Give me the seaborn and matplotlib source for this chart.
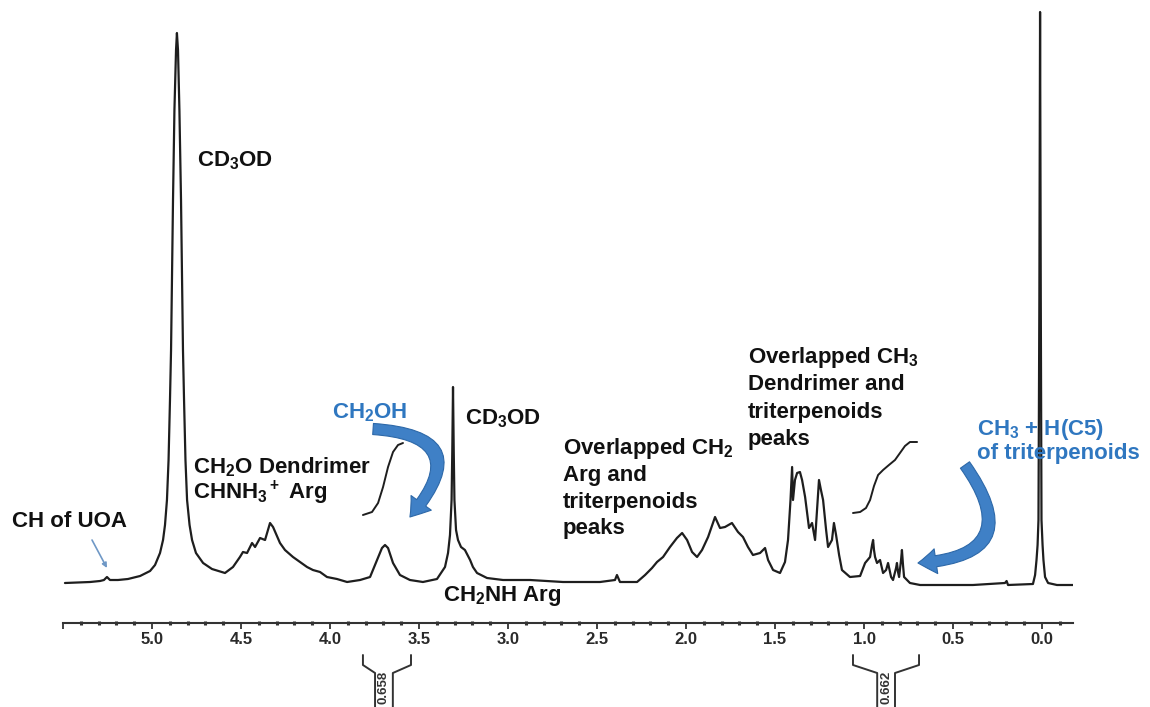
import numpy as np
import matplotlib
matplotlib.use("Agg")
import matplotlib.pyplot as plt
import seaborn as sns
from matplotlib.patches import FancyArrowPatch
from matplotlib.ticker import MultipleLocator

# 1H NMR trace: chemical shift (ppm) and relative intensity
shift_ppm = [
    5.489, 5.348, 5.292, 5.270, 5.253, 5.236, 5.191, 5.135, 5.067, 5.011,
    4.983, 4.955, 4.938, 4.927, 4.916, 4.907, 4.899, 4.893, 4.888, 4.882,
    4.874, 4.865, 4.860, 4.854, 4.846, 4.837, 4.831, 4.826, 4.820, 4.812,
    4.803, 4.789, 4.775, 4.753, 4.713, 4.663, 4.590, 4.545, 4.506, 4.489,
    4.466, 4.438, 4.421, 4.393, 4.365,
    4.337, 4.320, 4.281, 4.253, 4.208, 4.169, 4.129, 4.096, 4.056, 4.017,
    3.961, 3.904, 3.831, 3.775, 3.736, 3.708, 3.691, 3.674, 3.646, 3.607,
    3.551, 3.478, 3.399, 3.354, 3.337, 3.326, 3.317, 3.313, 3.309, 3.305,
    3.301, 3.292, 3.281, 3.264, 3.242, 3.213, 3.197, 3.174, 3.118, 3.028,
    2.876, 2.691, 2.596, 2.483, 2.399, 2.388, 2.371, 2.275, 2.230, 2.191,
    2.163, 2.129, 2.090, 2.051, 2.022, 1.994, 1.966, 1.938, 1.910, 1.876,
    1.837, 1.809, 1.781, 1.742, 1.708, 1.680, 1.652, 1.624, 1.584, 1.556,
    1.539, 1.511, 1.472, 1.444, 1.427, 1.413, 1.404, 1.399, 1.388, 1.376,
    1.360, 1.348, 1.331, 1.309, 1.292, 1.275, 1.264, 1.253, 1.242, 1.230,
    1.213, 1.202, 1.180, 1.169, 1.157, 1.140, 1.124, 1.079, 1.022, 0.994,
    0.966, 0.955, 0.949, 0.944, 0.938, 0.927, 0.910, 0.893, 0.876, 0.865,
    0.854, 0.848, 0.837, 0.820, 0.815, 0.809, 0.803, 0.792, 0.787, 0.781,
    0.775, 0.742, 0.685, 0.388, 0.208, 0.199, 0.191, 0.051, 0.039, 0.031,
    0.025, 0.020, 0.015, 0.011, 0.007, 0.003, -0.003, -0.008, -0.017, -0.034,
    -0.084, -0.174,
]
intensity = [
    0.0, 0.2, 0.4, 0.6, 1.2, 0.6, 0.6, 0.8, 1.4, 2.4,
    3.6, 6.0, 8.6, 11.6, 16.6, 24.6, 36.6, 46.6, 60.6, 76.6,
    94.6, 106.6, 110.0, 106.6, 94.6, 76.6, 60.6, 46.6, 36.6, 24.6,
    16.6, 11.6, 8.6, 6.0, 4.0, 2.8, 2.0, 3.2, 5.2, 6.2,
    6.0, 8.0, 7.2, 9.0, 8.6,
    12.0, 11.2, 8.0, 6.6, 5.2, 4.2, 3.2, 2.6, 2.2, 1.2,
    0.8, 0.2, 0.6, 1.2, 4.6, 7.0, 7.6, 7.0, 4.0, 1.6,
    0.6, 0.2, 0.8, 3.2, 6.0, 9.6, 16.6, 26.6, 39.2, 26.6,
    16.6, 10.6, 8.6, 7.2, 6.6, 4.6, 3.2, 2.0, 1.0, 0.6,
    0.6, 0.2, 0.2, 0.2, 0.6, 1.6, 0.2, 0.2, 1.6, 3.0,
    4.2, 5.2, 7.2, 9.0, 10.0, 8.6, 6.2, 5.2, 6.6, 9.2,
    13.2, 11.0, 11.2, 12.0, 10.2, 9.2, 7.2, 5.6, 6.0, 7.0,
    4.6, 2.6, 2.0, 4.2, 8.6, 16.6, 23.2, 16.6, 20.6, 22.0,
    22.2, 20.6, 17.2, 11.0, 12.0, 8.6, 14.6, 20.6, 18.6, 16.6,
    10.6, 7.2, 8.6, 12.0, 9.6, 5.6, 2.6, 1.2, 1.4, 4.0,
    5.2, 7.6, 8.6, 6.6, 5.2, 4.0, 4.6, 2.0, 2.6, 4.0,
    2.2, 1.2, 0.6, 3.0, 4.0, 2.2, 1.2, 4.6, 6.6, 3.6,
    1.2, 0.0, -0.4, -0.4, 0.0, 0.4, -0.4, -0.2, 1.6, 4.6,
    7.6, 12.6, 56.6, 114.2, 56.6, 12.6, 7.6, 4.6, 1.2, 0.0,
    -0.4, -0.4,
]

# integral traces
integral1_ppm = [3.815, 3.764, 3.730, 3.702, 3.674, 3.646, 3.618, 3.590]
integral1_val = [13.6, 14.2, 16.0, 19.2, 23.2, 26.2, 27.6, 28.0]
integral2_ppm = [1.062, 1.022, 0.989, 0.966, 0.944, 0.921, 0.893, 0.860,
                 0.826, 0.798, 0.770, 0.742, 0.702]
integral2_val = [14.0, 14.2, 15.0, 16.6, 19.4, 21.6, 22.6, 23.6,
                 24.6, 26.0, 27.4, 28.2, 28.2]

# integration regions (start, end, centre) and their values
integral_start = [3.815, 1.062]
integral_end = [3.545, 0.691]
integral_centre = [3.697, 0.876]
integral_labels = ["0.658", "0.662"]

tick_ppm = [5.5, 5.0, 4.5, 4.0, 3.5, 3.0, 2.5, 2.0, 1.5, 1.0, 0.5, 0.0]
tick_labels = ["", "5.0", "4.5", "4.0", "3.5", "3.0", "2.5", "2.0",
               "1.5", "1.0", "0.5", "0.0"]

sns.set_theme(style="white")
plt.rcParams["font.family"] = ["Liberation Sans", "DejaVu Sans"]
plt.rcParams.update({
    "mathtext.fontset": "custom",
    "mathtext.rm": "Liberation Sans:bold",
    "mathtext.bf": "Liberation Sans:bold",
    "mathtext.it": "Liberation Sans:bold",
    "mathtext.sf": "Liberation Sans:bold",
    "mathtext.default": "rm",
})

W, H = 1150, 707
fig = plt.figure(figsize=(W / 100, H / 100), dpi=100)
fig.patch.set_facecolor("white")
ax = fig.add_axes([63 / W, (H - 623) / H, (1073 - 63) / W, 623 / H])
ax.set_facecolor("white")

LINE = "#1e1e1e"
sns.lineplot(x=shift_ppm, y=intensity, sort=False, estimator=None,
             errorbar=None, color=LINE, lw=1.6, ax=ax, zorder=3)
sns.lineplot(x=integral1_ppm, y=integral1_val, sort=False, estimator=None,
             errorbar=None, color=LINE, lw=1.4, ax=ax, zorder=3)
sns.lineplot(x=integral2_ppm, y=integral2_val, sort=False, estimator=None,
             errorbar=None, color=LINE, lw=1.4, ax=ax, zorder=3)

ax.set_xlim(5.50, -0.174)
ax.set_ylim(-8, 116.6)

# ppm scale
for side in ("top", "left", "right"):
    ax.spines[side].set_visible(False)
ax.spines["bottom"].set_linewidth(1.5)
ax.spines["bottom"].set_color("#333333")
ax.set_xticks(tick_ppm)
ax.set_xticklabels(tick_labels)
ax.xaxis.set_minor_locator(MultipleLocator(0.1))
ax.tick_params(axis="x", which="major", direction="out", length=4, width=1.3,
               color="#333333", labelsize=12, labelcolor="#2a2a2a", pad=2.5,
               bottom=True)
ax.tick_params(axis="x", which="minor", direction="inout", length=3,
               width=2.2, color="#333333", bottom=True)
for lab in ax.get_xticklabels():
    lab.set_fontweight("bold")
ax.tick_params(axis="y", left=False, labelleft=False)
ax.set_xlabel("")
ax.set_ylabel("")

# integration brackets below the scale
for a, b, c, lab in zip(integral_start, integral_end, integral_centre,
                        integral_labels):
    ax.plot([a, a, c + 0.05, c + 0.05], [-14.4, -16.4, -18.0, -26],
            color="#333333", lw=1.4, clip_on=False)
    ax.plot([b, b, c - 0.05, c - 0.05], [-14.4, -16.4, -18.0, -26],
            color="#333333", lw=1.4, clip_on=False)
    ax.text(c, -20.9, lab, rotation=90, ha="center", va="center",
            fontsize=9.5, fontweight="bold", color="#333333", clip_on=False)

# curved block arrows
BLUE = "#3f80c6"
for start, end, rad in [((3.758, 30.8), (3.551, 13.2), -1.0),
                        ((0.433, 23.6), (0.697, 4.0), -0.9)]:
    arr = FancyArrowPatch(
        posA=start, posB=end, connectionstyle=f"arc3,rad={rad}",
        arrowstyle="simple,head_length=13,head_width=18,tail_width=8",
        mutation_scale=1, fc=BLUE, ec="#2d68a8", lw=0.8,
        shrinkA=0, shrinkB=0, zorder=4)
    ax.add_patch(arr)

ax.annotate("", xy=(5.253, 3.0), xytext=(5.337, 8.6),
            arrowprops=dict(arrowstyle="-|>", color="#6f98c6", lw=1.2,
                            mutation_scale=7, shrinkA=0, shrinkB=0))


def at(x, y):
    return x / W, 1 - y / H


BLACK = "#111111"
TXT_BLUE = "#2f77c0"
label_kw = dict(fontsize=16, fontweight="bold", ha="left", va="baseline",
                zorder=2)

fig.text(*at(197, 166), "CD$_3$OD", color=BLACK, **label_kw)
fig.text(*at(12, 527), "CH of UOA", color=BLACK, **label_kw)
fig.text(*at(193, 473), "CH$_2$O Dendrimer", color=BLACK, **label_kw)
fig.text(*at(193, 499), "CHNH$_3$$^+$ Arg", color=BLACK, **label_kw)
fig.text(*at(332, 418), "CH$_2$OH", color=TXT_BLUE, **label_kw)
fig.text(*at(465, 424), "CD$_3$OD", color=BLACK, **label_kw)
fig.text(*at(443, 601), "CH$_2$NH Arg", color=BLACK, **label_kw)

for i, line in enumerate(["Overlapped CH$_2$", "Arg and", "triterpenoids",
                          "peaks"]):
    fig.text(*at(563, 454 + 26.8 * i), line, color=BLACK, **label_kw)
for i, line in enumerate(["Overlapped CH$_3$", "Dendrimer and",
                          "triterpenoids", "peaks"]):
    fig.text(*at(748, 363 + 27.3 * i), line, color=BLACK, **label_kw)

fig.text(*at(977, 435), "CH$_3$ + H(C5)", color=TXT_BLUE, **label_kw)
fig.text(*at(977, 459), "of triterpenoids", color=TXT_BLUE, **label_kw)

fig.savefig("out.png", dpi=100, facecolor="white")
